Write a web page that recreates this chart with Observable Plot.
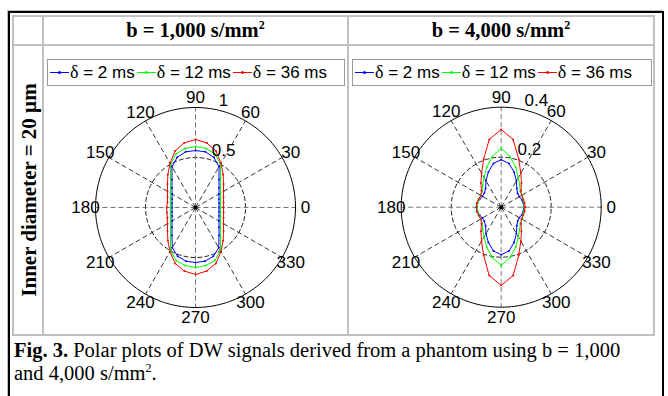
<!DOCTYPE html>
<html><head><meta charset="utf-8">
<script src="https://cdn.jsdelivr.net/npm/d3@7"></script>
<script src="https://cdn.jsdelivr.net/npm/@observablehq/plot@0.6"></script>
<style>
html,body{margin:0;padding:0;background:#fff}
body{width:668px;height:396px;position:relative;overflow:hidden;font-family:"Liberation Serif","Times New Roman",serif;color:#000}
.a{position:absolute;box-sizing:border-box}
.outer{left:8px;top:11px;width:656px;height:400px;border:2px solid #000;border-bottom:none;box-shadow:-1px -1px 0 #bbb}
.g{position:absolute;background:#c0c0c0}
.hdr{position:absolute;top:16px;height:29px;font-weight:bold;font-size:20.5px;line-height:29px;text-align:center;white-space:nowrap}
.hdr sup,.cap sup{font-size:12px;line-height:0;vertical-align:8px}
.side{position:absolute;left:-101px;top:178px;width:260px;height:24px;line-height:24px;text-align:center;font-weight:bold;font-size:21px;white-space:nowrap;transform:rotate(-90deg)}
.legend{position:absolute;top:59px;height:27px;border:1px solid #999;font-family:"Liberation Sans",Arial,sans-serif;font-size:17px;display:flex;align-items:center;white-space:nowrap;background:#fff;padding-left:2px;box-sizing:border-box}
.sw{display:inline-block;position:relative;width:19px;height:1px;margin-right:1px}
.sw i{position:absolute;left:8px;top:-1px;width:3px;height:3px;border-radius:50%}
.it{margin-right:2px}
.it .dl{font-family:"Liberation Serif",serif;font-size:18px}
.cap{position:absolute;left:14px;top:339px;width:648px;font-size:20.5px;line-height:23px;white-space:nowrap}
.plot{position:absolute;top:86px}
</style></head><body>
<div class="a outer"></div>
<div class="g" style="left:12px;top:15px;width:643px;height:2px"></div>
<div class="g" style="left:12px;top:44px;width:643px;height:2px"></div>
<div class="g" style="left:12px;top:334px;width:643px;height:2px"></div>
<div class="g" style="left:12px;top:15px;width:2px;height:321px"></div>
<div class="g" style="left:42px;top:15px;width:2px;height:321px"></div>
<div class="g" style="left:347px;top:15px;width:2px;height:321px"></div>
<div class="g" style="left:653px;top:15px;width:2px;height:321px"></div>
<div class="hdr" id="h1" style="left:44px;width:303px"></div>
<div class="hdr" id="h2" style="left:349px;width:304px"></div>
<div class="side" id="side"></div>
<div class="legend" id="lg1" style="left:47px;width:298px"></div>
<div class="legend" id="lg2" style="left:352px;width:300px"></div>
<div class="plot" id="p1" style="left:46px"></div>
<div class="plot" id="p2" style="left:351px"></div>
<div class="cap" id="cap"><b>Fig. 3.</b> Polar plots of DW signals derived from a phantom using b = 1,000<br>and 4,000 s/mm<sup>2</sup>.</div>
<script>
// ---- data ----
const angles = [0,10,20,30,40,50,60,70,80,90,100,110,120,130,140,150,160,170,180,190,200,210,220,230,240,250,260,270,280,290,300,310,320,330,340,350];
const seriesNames = ["δ = 2 ms","δ = 12 ms","δ = 36 ms"];
const seriesColors = ["#0000ff","#00ff00","#ff0000"];
const panelTitles = ["b = 1,000 s/mm", "b = 4,000 s/mm"];
const rowTitle = "Inner diameter = 20 µm";
const angleTicks = [0,30,60,90,120,150,180,210,240,270,300,330];

// b = 1,000 s/mm2
const b1000_2ms  = [0.235,0.239,0.250,0.271,0.307,0.366,0.47,0.535,0.565,0.57,0.565,0.535,0.47,0.366,0.307,0.271,0.250,0.239,0.235,0.239,0.250,0.271,0.307,0.366,0.465,0.52,0.545,0.55,0.545,0.52,0.465,0.366,0.307,0.271,0.250,0.239];
const b1000_12ms = [0.25,0.254,0.266,0.289,0.326,0.389,0.50,0.57,0.60,0.61,0.60,0.57,0.50,0.389,0.326,0.289,0.266,0.254,0.25,0.254,0.266,0.289,0.326,0.389,0.50,0.565,0.59,0.60,0.59,0.565,0.50,0.389,0.326,0.289,0.266,0.254];
const b1000_36ms = [0.28,0.285,0.298,0.323,0.366,0.43,0.51,0.60,0.655,0.68,0.655,0.60,0.51,0.43,0.366,0.323,0.298,0.285,0.288,0.29,0.30,0.323,0.366,0.43,0.51,0.595,0.645,0.67,0.645,0.595,0.51,0.43,0.366,0.323,0.298,0.285];
const b1000_rings = [0.5, 1];
const b1000_ringLabels = ["0.5", "1"];

// b = 4,000 s/mm2
const b4000_2ms  = [0.09,0.09,0.088,0.084,0.086,0.097,0.122,0.15,0.178,0.19,0.178,0.15,0.122,0.097,0.088,0.087,0.092,0.097,0.099,0.097,0.092,0.087,0.088,0.097,0.122,0.15,0.178,0.19,0.178,0.15,0.122,0.097,0.086,0.084,0.088,0.09];
const b4000_12ms = [0.092,0.092,0.092,0.095,0.10,0.115,0.137,0.17,0.205,0.236,0.205,0.17,0.137,0.115,0.10,0.095,0.094,0.096,0.096,0.096,0.094,0.095,0.10,0.115,0.137,0.17,0.204,0.233,0.204,0.17,0.137,0.115,0.10,0.095,0.092,0.092];
const b4000_36ms = [0.095,0.095,0.094,0.094,0.103,0.126,0.157,0.205,0.275,0.311,0.275,0.205,0.157,0.126,0.103,0.094,0.096,0.099,0.099,0.099,0.096,0.094,0.103,0.126,0.157,0.205,0.277,0.313,0.277,0.205,0.157,0.126,0.103,0.094,0.094,0.095];
const b4000_rings = [0.2, 0.4];
const b4000_ringLabels = ["0.2", "0.4"];

// ---- layout ----
document.getElementById("h1").innerHTML = panelTitles[0] + "<sup>2</sup>";
document.getElementById("h2").innerHTML = panelTitles[1] + "<sup>2</sup>";
document.getElementById("side").textContent = rowTitle;

function legend(el){
  seriesNames.forEach((n,i)=>{
    const sw = document.createElement("span"); sw.className="sw"; sw.style.background=seriesColors[i];
    const dot = document.createElement("i"); dot.style.background=seriesColors[i]; sw.appendChild(dot);
    const t = document.createElement("span"); t.className="it";
    t.innerHTML = '<span class="dl">δ</span>' + n.slice(1);
    el.appendChild(sw); el.appendChild(t);
  });
}
legend(document.getElementById("lg1"));
legend(document.getElementById("lg2"));

const R = 100;
const rad = a => a*Math.PI/180;
function polar(values, rmax, rings, ringLabels, cx, cy){
  const rows = [];
  values.forEach((vals,si)=>{
    angles.forEach((a,i)=>rows.push({series:seriesNames[si], a, r:vals[i]}));
    rows.push({series:seriesNames[si], a:360, r:vals[0]});
  });
  const circ = r => d3.range(0,361,2).map(a=>({a, r}));
  const X = d => d.r*Math.cos(rad(d.a)), Y = d => d.r*Math.sin(rad(d.a));
  const diag = angleTicks.filter(a=>a%90!==0).map(a=>({a}));
  const axes = angleTicks.filter(a=>a%90===0).map(a=>({a}));
  const ringRows = rings.map((r,i)=>({r, label:ringLabels[i]}));
  const off = rmax*0.025;
  return Plot.plot({
    width:300, height:247, margin:0,
    style:{fontFamily:"'Liberation Sans',Arial,sans-serif", fontSize:"17px", background:"transparent", overflow:"visible"},
    x:{domain:[-rmax,rmax], range:[cx-R,cx+R], axis:null},
    y:{domain:[-rmax,rmax], range:[cy+R,cy-R], axis:null},
    color:{domain:seriesNames, range:seriesColors},
    marks:[
      Plot.line(circ(rings[0]),{x:X,y:Y,stroke:"#000",strokeWidth:0.9,strokeDasharray:"4,3"}),
      Plot.link(diag,{x1:()=>0,y1:()=>0,x2:d=>rmax*Math.cos(rad(d.a)),y2:d=>rmax*Math.sin(rad(d.a)),stroke:"#000",strokeWidth:0.8,strokeDasharray:"5,3"}),
      Plot.link(axes,{x1:()=>0,y1:()=>0,x2:d=>rmax*Math.cos(rad(d.a)),y2:d=>rmax*Math.sin(rad(d.a)),stroke:"#777",strokeWidth:1,strokeDasharray:"5,3"}),
      Plot.line(circ(rmax),{x:X,y:Y,stroke:"#000",strokeWidth:1}),
      Plot.line(rows,{x:X,y:Y,z:"series",stroke:"series",strokeWidth:1}),
      Plot.dot(rows,{x:X,y:Y,fill:"series",r:1}),
      Plot.dot([{a:0,r:0}],{x:X,y:Y,fill:"#000",r:2}),
      Plot.text(angleTicks.map(a=>({a})),{x:d=>1.1*rmax*Math.cos(rad(d.a)),y:d=>1.1*rmax*Math.sin(rad(d.a)),text:d=>String(d.a),fill:"#000",fontSize:17}),
      Plot.text(ringRows,{x:d=>(d.r+off)*Math.cos(rad(82)),y:d=>(d.r+off)*Math.sin(rad(82)),text:"label",textAnchor:"start",lineAnchor:"bottom",dx:9,fill:"#000",fontSize:17})
    ]
  });
}
document.getElementById("p1").appendChild(polar([b1000_2ms,b1000_12ms,b1000_36ms],1,b1000_rings,b1000_ringLabels,149,121));
document.getElementById("p2").appendChild(polar([b4000_2ms,b4000_12ms,b4000_36ms],0.4,b4000_rings,b4000_ringLabels,149.7,120.7));
</script>
</body></html>
